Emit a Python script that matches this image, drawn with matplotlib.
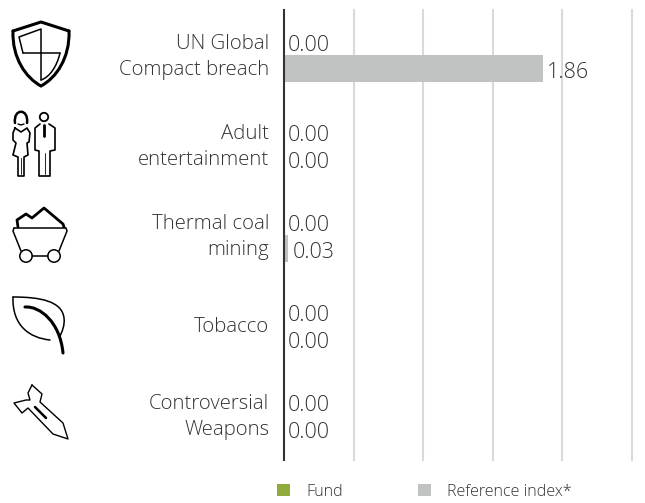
import numpy as np
from matplotlib import pyplot as plt
from matplotlib.patches import Rectangle, Circle, PathPatch
from matplotlib.path import Path
from matplotlib.transforms import ScaledTranslation

plt.rcParams['font.family'] = ['Open Sans', 'DejaVu Sans']

categories = ['UN Global\nCompact breach', 'Adult\nentertainment', 'Thermal coal\nmining', 'Tobacco', 'Controversial\nWeapons']
fund = [0.00, 0.00, 0.00, 0.00, 0.00]
reference = [1.86, 0.00, 0.03, 0.00, 0.00]
legend_labels = ['Fund', 'Reference index*']

GREEN = '#8eab3c'
GREY = '#c1c3c2'
TEXT = '#333333'
W, H = 645, 503

fig = plt.figure(figsize=(W / 100, H / 100), dpi=100)
ax = fig.add_axes([284 / W, 1 - 460 / H, 348 / W, 450 / H])

y = np.arange(len(categories))
off = 0.148
ax.barh(y - off, fund, 0.3, color=GREEN, zorder=3)
ax.barh(y + off, reference, 0.3, color=GREY, zorder=3)

ax.set_xlim(0, 2.5)
ax.set_ylim(4.5, -0.5)
ax.set_xticks([0.5, 1, 1.5, 2, 2.5])
ax.set_xticklabels([])
ax.set_yticks(y)
ax.set_yticklabels(categories, fontsize=14.7, color=TEXT, linespacing=1.39, fontweight='light', ha='right')
ax.tick_params(axis='both', length=0)
ax.tick_params(axis='y', pad=10.5)
# two line labels sit a bit higher than the bar group centre
for lab in ax.get_yticklabels():
    if '\n' in lab.get_text():
        lab.set_transform(lab.get_transform() + ScaledTranslation(0, 3.5 / 100, fig.dpi_scale_trans))
for s in ['top', 'right', 'bottom']:
    ax.spines[s].set_visible(False)
ax.spines['left'].set_color('#333333')
ax.spines['left'].set_linewidth(1.5)
ax.spines['left'].set_zorder(5)
ax.grid(True, axis='x', color='#d9d9d9', linewidth=1.5, zorder=1)
for line in ax.get_xgridlines():
    line.set_clip_on(False)

for i in y:
    ax.annotate('%.2f' % fund[i], (fund[i], i - off), xytext=(3, -3), textcoords='offset points',
                va='center', fontsize=15.5, color=TEXT, fontweight='light', zorder=6)
    ax.annotate('%.2f' % reference[i], (reference[i], i + off), xytext=(3, -3), textcoords='offset points',
                va='center', fontsize=15.5, color=TEXT, fontweight='light', zorder=6)

# overlay in pixel coordinates for the icons and the legend
ov = fig.add_axes([0, 0, 1, 1])
ov.set_xlim(0, W)
ov.set_ylim(H, 0)
ov.axis('off')
ov.patch.set_alpha(0)


def stroke(pts, lw=1.2):
    pts = np.array(pts)
    ov.plot(pts[:, 0], pts[:, 1], color='black', lw=lw, solid_joinstyle='round', solid_capstyle='round')


def curve(start, segs, lw=1.2):
    # segs are (c1, c2, end) bezier segments
    verts = [start]
    codes = [Path.MOVETO]
    for c1, c2, end in segs:
        verts += [c1, c2, end]
        codes += [Path.CURVE4] * 3
    ov.add_patch(PathPatch(Path(verts, codes), fill=False, ec='black', lw=lw, capstyle='round'))


# shield
stroke([(13, 31), (41, 22), (69, 31)], 2.2)
curve((69, 31), [((70, 58), (56, 78), (41, 86)), ((26, 78), (12, 58), (13, 31))], 2.2)
stroke([(23, 53), (19, 37), (41, 29), (41, 80)], 1.1)
stroke([(23, 53), (60, 53)], 1.1)
curve((60, 53), [((57, 66), (50, 77), (41, 80))], 1.1)

# people
curve((15, 123), [((13, 108), (29, 108), (27, 123))], 1.8)
stroke([(18, 124), (21, 125), (24, 124)], 1)
stroke([(15, 128), (21, 132), (27, 128), (30, 133), (29, 142), (27, 143), (28, 155), (24, 157), (24, 176), (18, 176),
        (18, 157), (13, 155), (16, 143), (13, 140), (13, 133), (15, 128)], 1.2)
stroke([(21, 158), (21, 174)], 0.6)
ov.add_patch(Circle((44, 117), 4.2, fill=False, ec='black', lw=1.3))
stroke([(40, 124), (35, 128), (35, 150), (39, 151), (39, 176), (50, 176), (50, 151), (55, 150), (55, 128), (49, 124)], 1.2)
stroke([(44, 125), (44, 136)], 2)
stroke([(44.5, 153), (44.5, 174)], 0.6)

# coal cart
stroke([(18, 227), (17, 220), (26, 214), (32, 218), (44, 208), (63, 224), (64, 227)], 2)
stroke([(14, 228), (66, 228), (67, 231), (59, 251)], 1.1)
stroke([(14, 228), (13, 231), (21, 251)], 1.1)
stroke([(32, 256), (48, 256)], 1.1)
ov.add_patch(Circle((26, 256), 6.2, fill=False, ec='black', lw=1.1))
ov.add_patch(Circle((54, 256), 6.2, fill=False, ec='black', lw=1.1))

# leaf
curve((50, 340), [((30, 338), (12, 326), (13, 297))], 1.1)
curve((13, 297), [((40, 297), (62, 301), (64, 318)), ((65, 325), (62, 332), (60, 336))], 1.1)
curve((25, 307), [((40, 306), (60, 322), (63, 353))], 2.2)

# bomb
stroke([(32, 385), (42, 394), (40, 402), (63, 423), (68, 439), (53, 434), (28, 408), (22, 413), (14, 403), (26, 400),
        (30, 400), (28, 393), (32, 385)], 1)
stroke([(35, 407), (46, 418)], 1.8)

# legend
for x0, xt, c, lab in zip([277, 418], [306, 447], [GREEN, GREY], legend_labels):
    ov.add_patch(Rectangle((x0, 484), 12.5, 12, fc=c, ec='none'))
    ov.text(xt, 492.5, lab, va='center', ha='left', fontsize=11.6, color=TEXT, fontweight='light')

fig.savefig('out.png', dpi=100)
